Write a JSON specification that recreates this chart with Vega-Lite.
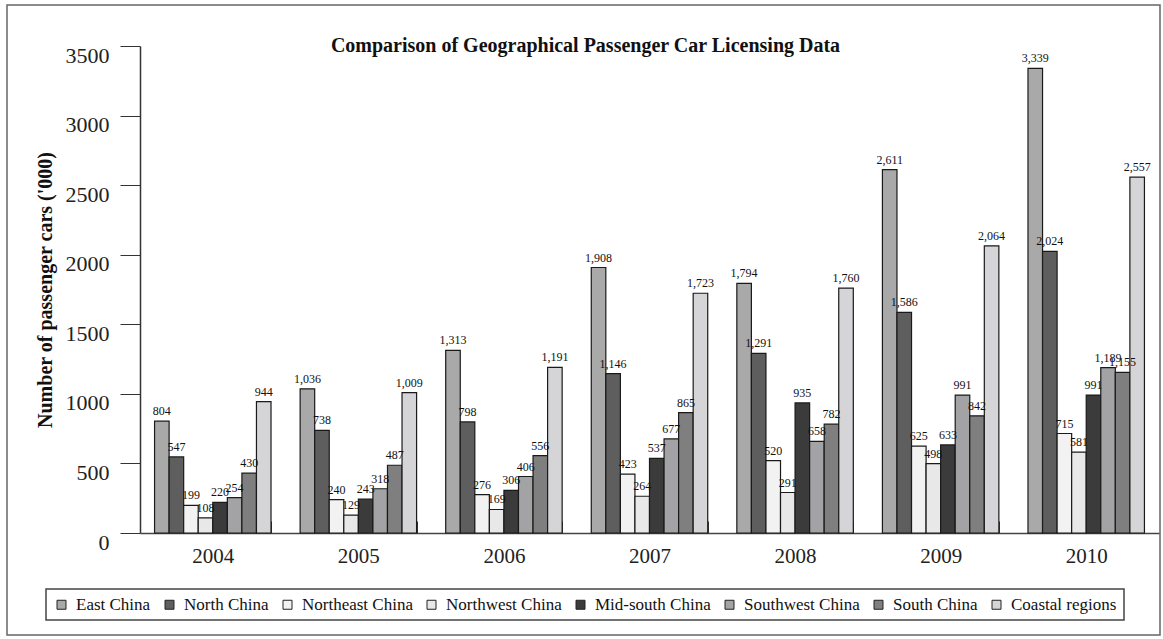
{
  "$schema": "https://vega.github.io/schema/vega-lite/v6.json",
  "width": 1153,
  "height": 630,
  "autosize": {"type": "none"},
  "padding": {"left": 7, "top": 5, "right": 3, "bottom": 4},
  "background": "white",
  "title": {
    "text": "Comparison of Geographical Passenger Car Licensing Data",
    "font": "Liberation Serif",
    "fontSize": 20,
    "fontWeight": "bold",
    "color": "#111111",
    "anchor": "middle",
    "frame": "group",
    "orient": "top",
    "baseline": "alphabetic",
    "offset": -67,
    "dx": 2
  },
  "data": {
    "values": [
      {"year": "2004", "region": "East China", "value": 804},
      {"year": "2004", "region": "North China", "value": 547},
      {"year": "2004", "region": "Northeast China", "value": 199},
      {"year": "2004", "region": "Northwest China", "value": 108},
      {"year": "2004", "region": "Mid-south China", "value": 220},
      {"year": "2004", "region": "Southwest China", "value": 254},
      {"year": "2004", "region": "South China", "value": 430},
      {"year": "2004", "region": "Coastal regions", "value": 944},
      {"year": "2005", "region": "East China", "value": 1036},
      {"year": "2005", "region": "North China", "value": 738},
      {"year": "2005", "region": "Northeast China", "value": 240},
      {"year": "2005", "region": "Northwest China", "value": 129},
      {"year": "2005", "region": "Mid-south China", "value": 243},
      {"year": "2005", "region": "Southwest China", "value": 318},
      {"year": "2005", "region": "South China", "value": 487},
      {"year": "2005", "region": "Coastal regions", "value": 1009},
      {"year": "2006", "region": "East China", "value": 1313},
      {"year": "2006", "region": "North China", "value": 798},
      {"year": "2006", "region": "Northeast China", "value": 276},
      {"year": "2006", "region": "Northwest China", "value": 169},
      {"year": "2006", "region": "Mid-south China", "value": 306},
      {"year": "2006", "region": "Southwest China", "value": 406},
      {"year": "2006", "region": "South China", "value": 556},
      {"year": "2006", "region": "Coastal regions", "value": 1191},
      {"year": "2007", "region": "East China", "value": 1908},
      {"year": "2007", "region": "North China", "value": 1146},
      {"year": "2007", "region": "Northeast China", "value": 423},
      {"year": "2007", "region": "Northwest China", "value": 264},
      {"year": "2007", "region": "Mid-south China", "value": 537},
      {"year": "2007", "region": "Southwest China", "value": 677},
      {"year": "2007", "region": "South China", "value": 865},
      {"year": "2007", "region": "Coastal regions", "value": 1723},
      {"year": "2008", "region": "East China", "value": 1794},
      {"year": "2008", "region": "North China", "value": 1291},
      {"year": "2008", "region": "Northeast China", "value": 520},
      {"year": "2008", "region": "Northwest China", "value": 291},
      {"year": "2008", "region": "Mid-south China", "value": 935},
      {"year": "2008", "region": "Southwest China", "value": 658},
      {"year": "2008", "region": "South China", "value": 782},
      {"year": "2008", "region": "Coastal regions", "value": 1760},
      {"year": "2009", "region": "East China", "value": 2611},
      {"year": "2009", "region": "North China", "value": 1586},
      {"year": "2009", "region": "Northeast China", "value": 625},
      {"year": "2009", "region": "Northwest China", "value": 498},
      {"year": "2009", "region": "Mid-south China", "value": 633},
      {"year": "2009", "region": "Southwest China", "value": 991},
      {"year": "2009", "region": "South China", "value": 842},
      {"year": "2009", "region": "Coastal regions", "value": 2064},
      {"year": "2010", "region": "East China", "value": 3339},
      {"year": "2010", "region": "North China", "value": 2024},
      {"year": "2010", "region": "Northeast China", "value": 715},
      {"year": "2010", "region": "Northwest China", "value": 581},
      {"year": "2010", "region": "Mid-south China", "value": 991},
      {"year": "2010", "region": "Southwest China", "value": 1189},
      {"year": "2010", "region": "South China", "value": 1155},
      {"year": "2010", "region": "Coastal regions", "value": 2557}
    ]
  },
  "encoding": {
    "x": {
      "field": "year",
      "type": "nominal",
      "scale": {"range": [133, 1152], "paddingInner": 0.2, "paddingOuter": 0.1},
      "axis": {
        "orient": "bottom",
        "offset": -102,
        "title": null,
        "labelAngle": 0,
        "tickBand": "extent",
        "tickSize": -12,
        "tickColor": "#333333",
        "domainColor": "#444444",
        "domainWidth": 1.5,
        "labelFont": "Liberation Serif",
        "labelFontSize": 21,
        "labelColor": "#222222",
        "labelPadding": 24
      }
    },
    "xOffset": {
      "field": "region",
      "type": "nominal",
      "sort": ["East China", "North China", "Northeast China", "Northwest China", "Mid-south China", "Southwest China", "South China", "Coastal regions"],
      "scale": {"paddingInner": 0, "paddingOuter": 0}
    },
    "y": {
      "field": "value",
      "type": "quantitative",
      "scale": {"domain": [0, 3500], "range": [528, 41], "nice": false},
      "axis": {
        "orient": "left",
        "offset": -133,
        "values": [0, 500, 1000, 1500, 2000, 2500, 3000, 3500],
        "format": "d",
        "grid": false,
        "tickSize": 20,
        "tickColor": "#333333",
        "domainColor": "#333333",
        "domainWidth": 1.5,
        "labelPadding": 11,
        "labelOffset": 9,
        "labelFont": "Liberation Serif",
        "labelFontSize": 22,
        "labelColor": "#222222",
        "title": "Number of passenger cars ('000)",
        "titleFont": "Liberation Serif",
        "titleFontSize": 20,
        "titleFontWeight": "bold",
        "titleColor": "#111111",
        "titlePadding": 10
      }
    }
  },
  "layer": [
    {
      "mark": {"type": "bar", "stroke": "#1a1a1a", "strokeWidth": 1.2},
      "encoding": {
        "color": {
          "field": "region",
          "type": "nominal",
          "scale": {
            "domain": ["East China", "North China", "Northeast China", "Northwest China", "Mid-south China", "Southwest China", "South China", "Coastal regions"],
            "range": ["#a9a9a9", "#5e5e5e", "#f2f2f2", "#e8e8e8", "#3b3b3b", "#a3a3a6", "#7f7f7f", "#d5d5d7"]
          },
          "legend": {
            "orient": "none",
            "legendX": 39,
            "legendY": 584,
            "direction": "horizontal",
            "columns": 8,
            "title": null,
            "symbolType": "square",
            "symbolSize": 81,
            "symbolStrokeColor": "#222222",
            "symbolStrokeWidth": 1,
            "labelFont": "Liberation Serif",
            "labelFontSize": 17,
            "labelColor": "#111111",
            "columnPadding": 10,
            "labelOffset": 6,
            "padding": 7,
            "strokeColor": "#444444",
            "fillColor": "white"
          }
        }
      }
    },
    {
      "mark": {"type": "text", "baseline": "bottom", "dy": -3, "font": "Liberation Serif", "fontSize": 12, "color": "#111111"},
      "encoding": {
        "text": {"field": "value", "type": "quantitative", "format": ","}
      }
    }
  ],
  "config": {
    "view": {"stroke": "#666666", "strokeWidth": 1.5},
    "legend": {"strokeWidth": 1.5}
  }
}
